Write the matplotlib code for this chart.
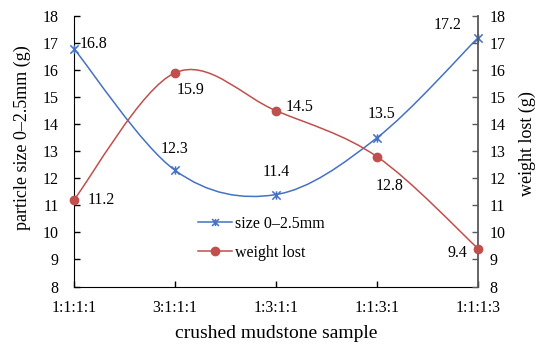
import matplotlib.pyplot as plt
from matplotlib.path import Path
from matplotlib.patches import PathPatch
from matplotlib.lines import Line2D

plt.rcParams["font.family"] = ["Liberation Serif", "DejaVu Serif"]

samples = ["1:1:1:1", "3:1:1:1", "1:3:1:1", "1:1:3:1", "1:1:1:3"]
size_vals = [16.8, 12.3, 11.4, 13.5, 17.2]
weight_vals = [11.2, 15.9, 14.5, 12.8, 9.4]

BLUE = "#4472C4"
RED = "#C0504D"
FS = 11.5


def smooth_path(xs, ys):
    """Excel-like smoothed line: cubic Bezier segments through every point."""
    pts = list(zip(xs, ys))
    verts = [pts[0]]
    codes = [Path.MOVETO]
    n = len(pts)
    for i in range(n - 1):
        p0 = pts[max(i - 1, 0)]
        p1 = pts[i]
        p2 = pts[i + 1]
        p3 = pts[min(i + 2, n - 1)]
        c1 = (p1[0] + (p2[0] - p0[0]) / 6, p1[1] + (p2[1] - p0[1]) / 6)
        c2 = (p2[0] - (p3[0] - p1[0]) / 6, p2[1] - (p3[1] - p1[1]) / 6)
        verts += [c1, c2, p2]
        codes += [Path.CURVE4] * 3
    return Path(verts, codes)


# Excel "star" marker: an x with a vertical stroke
star = Path(
    [(-1, -1), (1, 1), (-1, 1), (1, -1), (0, -1), (0, 1)],
    [Path.MOVETO, Path.LINETO, Path.MOVETO, Path.LINETO, Path.MOVETO, Path.LINETO],
)

fig = plt.figure(figsize=(5.39, 3.49), dpi=100)
ax = fig.add_axes([0.137, 0.179, 0.750, 0.775])
ax2 = ax.twinx()

x = list(range(len(samples)))

ax.add_patch(PathPatch(smooth_path(x, size_vals), fill=False, edgecolor=BLUE, lw=1.1, zorder=3))
ax.plot(x, size_vals, ls="none", marker=star, ms=6, mec=BLUE, mew=1.1, zorder=4, clip_on=False)

ax2.add_patch(PathPatch(smooth_path(x, weight_vals), fill=False, edgecolor=RED, lw=1.1, zorder=3))
ax2.plot(x, weight_vals, ls="none", marker="o", ms=6, color=RED, zorder=4, clip_on=False)

for a in (ax, ax2):
    a.set_xlim(0, 4)
    a.set_ylim(8, 18)
    a.set_yticks(range(8, 19))
    a.spines["top"].set_visible(False)
    a.tick_params(direction="in", labelsize=FS, length=4, width=1)

ax.set_xticks(x)
ax.set_xticklabels(samples)
ax.tick_params(axis="x", pad=10)
ax.tick_params(axis="y", pad=11)
ax.spines["right"].set_visible(False)
ax2.spines["left"].set_visible(False)
ax2.spines["bottom"].set_visible(False)
ax2.spines["right"].set_color("#595959")
ax2.spines["right"].set_linewidth(1.3)
ax2.tick_params(axis="y", colors="#595959", labelcolor="black", pad=8)

ax.set_xlabel("crushed mudstone sample", fontsize=14, labelpad=6)
ax.set_ylabel("particle size 0\u20132.5mm (g)", fontsize=13)
ax.yaxis.set_label_coords(-0.106, 0.55)
ax2.set_ylabel("weight lost (g)", fontsize=13)
ax2.yaxis.set_label_coords(1.10, 0.53)

# data labels (offsets in points)
size_off = [(4, 3, "left"), (0, 15, "center"), (0, 16, "center"), (3, 17, "center"), (-22, 9, "center")]
weight_off = [(10, 0, "left"), (11, -12, "center"), (7, 3, "left"), (9, -21, "center"), (-8, -3, "right")]
for xi, v, (dx, dy, ha) in zip(x, size_vals, size_off):
    ax.annotate(f"{v}", (xi, v), xytext=(dx, dy), textcoords="offset points",
                ha=ha, va="center", fontsize=FS, zorder=5)
for xi, v, (dx, dy, ha) in zip(x, weight_vals, weight_off):
    ax2.annotate(f"{v}", (xi, v), xytext=(dx, dy), textcoords="offset points",
                 ha=ha, va="center", fontsize=FS, zorder=5)

handles = [
    Line2D([], [], color=BLUE, lw=1.1, marker=star, ms=5, mew=1.1),
    Line2D([], [], color=RED, lw=1.1, marker="o", ms=6),
]
ax2.legend(handles, ["size 0\u20132.5mm", "weight lost"], loc="upper left",
           bbox_to_anchor=(0.288, 0.29), frameon=False, fontsize=FS,
           borderpad=0, handlelength=2.1, handletextpad=0.2, labelspacing=0.8,
           numpoints=1)

fig.savefig("out.png", dpi=100)
